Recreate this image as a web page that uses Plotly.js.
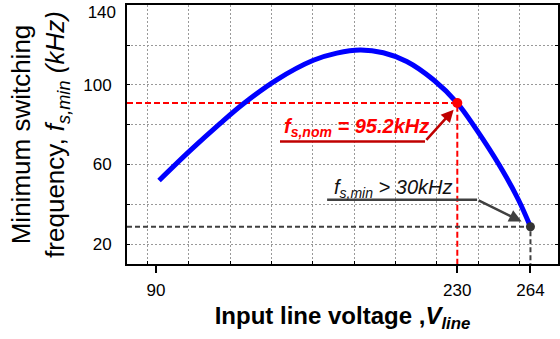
<!DOCTYPE html>
<html>
<head>
<meta charset="utf-8">
<script src="https://cdn.plot.ly/plotly-3.0.1.min.js"></script>
<style>html,body{margin:0;padding:0;background:#fff;}#chart{width:560px;height:339px;}</style>
</head>
<body>
<div id="chart"></div>
<script>
// Curve data
const voltage = [91.4, 105.8, 119.7, 130.6, 146.1, 163.1, 174.0, 184.8, 195.6, 206.5, 218.9, 230.0, 239.0, 249.9, 258.4, 264.0];
const fsMin   = [52.0, 67.0, 80.6, 90.6, 102.6, 112.4, 116.0, 117.6, 116.2, 111.8, 102.6, 90.9, 77.4, 59.0, 42.3, 28.7];

// Highlighted points
const nomV = 230, nomF = 90.9;
const minV = 264, minF = 28.7;

// Axis ranges / ticks
const xRange = [76.5, 276.8];
const yRange = [10, 140.2];
const xTickVals = [90, 230, 264];
const xTickText = ['90', '230', '264'];
const yTickVals = [20, 60, 100];
const yTickText = ['20', '60', '100'];
const yTopTickVals = [140];
const yTopTickText = ['140'];

// Annotation labels
const nomLabel = '<b><i>f<sub>s,nom</sub> = 95.2kHz</i></b>';
const minLabel = '<i>f<sub>s,min</sub> &gt; 30kHz</i>';
// callout geometry (data units): underline start/end, arrow tip, label position
const nomCallout = {x0: 147.6, x1: 215.0, y: 71.6, tipX: 228.3, tipY: 87.6, textX: 148.6, textY: 78.6};
const minCallout = {x0: 169.5, x1: 239.2, y: 42.3, tipX: 259.9, tipY: 31.4, textX: 172.0, textY: 48.0};

const font = 'Liberation Sans, Arial, sans-serif';
const gridColor = '#999999';

const traces = [
  {x: [xRange[0], nomV, nomV], y: [nomF, nomF, yRange[0]], mode: 'lines',
   line: {color: '#ff0000', width: 2, dash: '6px,3px'}, hoverinfo: 'skip'},
  {x: [xRange[0], minV, minV], y: [minF, minF, yRange[0]], mode: 'lines',
   line: {color: '#404040', width: 2, dash: '5px,3px'}, hoverinfo: 'skip'},
  {x: voltage, y: fsMin, mode: 'lines', line: {color: '#0000ff', width: 5, shape: 'spline'}},
  {x: [nomV], y: [nomF], mode: 'markers', marker: {color: '#ff0000', size: 10}},
  {x: [minV], y: [minF], mode: 'markers', marker: {color: '#333333', size: 9}, yaxis: 'y2'}
];

const layout = {
  width: 560, height: 339,
  margin: {l: 127, r: 2, t: 5, b: 75},
  paper_bgcolor: '#fff', plot_bgcolor: '#fff',
  showlegend: false,
  font: {family: font, color: '#000'},
  xaxis: {
    range: xRange, tickvals: xTickVals, ticktext: xTickText,
    ticks: 'outside', ticklen: 7, tickwidth: 2, tickcolor: '#000',
    ticklabelstandoff: 3,
    showgrid: false, zeroline: false,
    showline: true, linecolor: '#000', linewidth: 2, mirror: true,
    tickfont: {size: 17, family: font, color: '#000'},
    minor: {tick0: 86.1, dtick: 19.19, showgrid: true, gridcolor: gridColor, griddash: '2px,2px', gridwidth: 1,
            ticks: 'inside', ticklen: 3, tickcolor: '#000', tickwidth: 1},
    title: {text: '<b>Input line voltage ,<i>V<sub>line</sub></i></b>', font: {size: 24, family: font}, standoff: 8},
    automargin: false
  },
  yaxis: {
    range: yRange, tickvals: yTickVals, ticktext: yTickText,
    ticks: 'inside', ticklen: 3, tickcolor: '#000',
    ticklabelstandoff: 10,
    showgrid: true, gridcolor: gridColor, griddash: '2px,2px', gridwidth: 1,
    zeroline: false,
    showline: true, linecolor: '#000', linewidth: 2, mirror: 'ticks',
    tickfont: {size: 17, family: font, color: '#000'},
    minor: {tick0: 0, dtick: 20, showgrid: true, gridcolor: gridColor, griddash: '2px,2px', gridwidth: 1,
            ticks: 'inside', ticklen: 3, tickcolor: '#000', tickwidth: 1},
    title: {text: 'Minimum switching<br>frequency, <i>f<sub>s,min</sub> (kHz)</i>', font: {size: 26, family: font}, standoff: 11},
    automargin: false
  },
  yaxis2: {
    overlaying: 'y', side: 'left', anchor: 'x',
    range: yRange, tickvals: yTopTickVals, ticktext: yTopTickText,
    ticks: '', showgrid: false, zeroline: false, showline: false,
    ticklabelstandoff: 10, ticklabelshift: 7, ticklabeloverflow: 'allow',
    tickfont: {size: 17, family: font, color: '#000'},
    automargin: false
  },
  shapes: [
    {type: 'line', xref: 'x', yref: 'y', x0: nomCallout.x0, x1: nomCallout.x1, y0: nomCallout.y, y1: nomCallout.y,
     line: {color: '#c00000', width: 2.5}},
    {type: 'line', xref: 'x', yref: 'y', x0: minCallout.x0, x1: minCallout.x1, y0: minCallout.y, y1: minCallout.y,
     line: {color: '#404040', width: 2.5}}
  ],
  annotations: [
    {x: nomCallout.tipX, y: nomCallout.tipY, ax: nomCallout.x1, ay: nomCallout.y, axref: 'x', ayref: 'y',
     xref: 'x', yref: 'y', text: '', showarrow: true, arrowhead: 2, arrowsize: 1, arrowwidth: 2.5, arrowcolor: '#c00000', standoff: 0},
    {x: minCallout.tipX, y: minCallout.tipY, ax: minCallout.x1, ay: minCallout.y, axref: 'x', ayref: 'y',
     xref: 'x', yref: 'y', text: '', showarrow: true, arrowhead: 2, arrowsize: 1, arrowwidth: 2.5, arrowcolor: '#404040', standoff: 0},
    {x: nomCallout.textX, y: nomCallout.textY, xref: 'x', yref: 'y', xanchor: 'left', yanchor: 'middle',
     text: nomLabel, showarrow: false, font: {size: 20, color: '#ff0000', family: font}},
    {x: minCallout.textX, y: minCallout.textY, xref: 'x', yref: 'y', xanchor: 'left', yanchor: 'middle',
     text: minLabel, showarrow: false, font: {size: 20, color: '#111111', family: font}}
  ]
};

Plotly.newPlot('chart', traces, layout, {displayModeBar: false, staticPlot: true});
</script>
</body>
</html>
